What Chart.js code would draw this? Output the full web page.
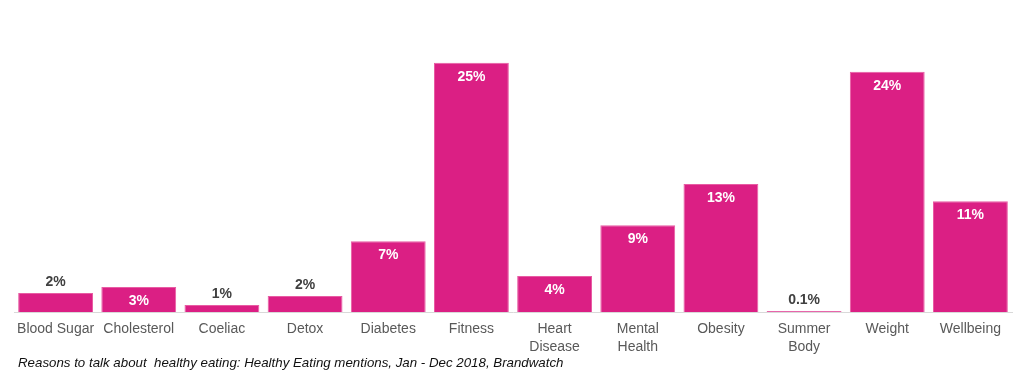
<!DOCTYPE html>
<html>
<head>
<meta charset="utf-8">
<script src="https://cdn.jsdelivr.net/npm/chart.js@4/dist/chart.umd.min.js"></script>
<style>
html,body{margin:0;padding:0;background:#fff;}
#wrap{width:1024px;height:378px;position:relative;}
#caption{position:absolute;left:18px;top:355px;font-family:"Liberation Sans",Arial,sans-serif;font-style:italic;font-size:13.3px;color:#111;white-space:pre;line-height:16px;}
</style>
</head>
<body>
<div id="wrap"><canvas id="c"></canvas><div id="caption"></div></div>
<script>
const categories = ["Blood Sugar", "Cholesterol", "Coeliac", "Detox", "Diabetes", "Fitness", ["Heart", "Disease"], ["Mental", "Health"], "Obesity", ["Summer", "Body"], "Weight", "Wellbeing"];
const shareValues = [1.9, 2.5, 0.7, 1.6, 7.1, 25.0, 3.6, 8.7, 12.85, 0.1, 24.1, 11.1];
const valueLabels = ["2%", "3%", "1%", "2%", "7%", "25%", "4%", "9%", "13%", "0.1%", "24%", "11%"];
const captionText = "Reasons to talk about  healthy eating: Healthy Eating mentions, Jan - Dec 2018, Brandwatch";

document.getElementById('caption').textContent = captionText;

const valueLabelPlugin = {
  id: 'valueLabels',
  afterDatasetsDraw(chart) {
    const ctx = chart.ctx;
    const meta = chart.getDatasetMeta(0);
    ctx.save();
    ctx.font = 'bold 14px "Liberation Sans", Arial, sans-serif';
    ctx.textAlign = 'center';
    ctx.textBaseline = 'middle';
    meta.data.forEach((bar, i) => {
      const h = bar.base - bar.y;
      if (h >= 22) {
        ctx.fillStyle = '#ffffff';
        ctx.fillText(valueLabels[i], bar.x, bar.y + 14);
      } else {
        ctx.fillStyle = '#404040';
        ctx.fillText(valueLabels[i], bar.x, bar.y - 11);
      }
    });
    ctx.restore();
  }
};

new Chart(document.getElementById('c'), {
  type: 'bar',
  data: {
    labels: categories,
    datasets: [{
      data: shareValues,
      backgroundColor: '#DB1F84',
      borderColor: '#E85CA3',
      borderWidth: 1,
      categoryPercentage: 1.0,
      barPercentage: 0.9
    }]
  },
  options: {
    responsive: true,
    maintainAspectRatio: false,
    animation: false,
    layout: { padding: { left: 14, right: 12, top: 13, bottom: 21.6 } },
    plugins: {
      legend: { display: false },
      tooltip: { enabled: false },
      title: { display: false }
    },
    scales: {
      x: {
        grid: { display: false },
        border: { display: true, color: '#D9D9D9', width: 1 },
        ticks: {
          color: '#595959',
          padding: 0,
          maxRotation: 0,
          autoSkip: false,
          font: { family: '"Liberation Sans", Arial, sans-serif', size: 14, lineHeight: 1.3 }
        }
      },
      y: {
        display: false,
        min: 0,
        max: 30
      }
    }
  },
  plugins: [valueLabelPlugin]
});
</script>
</body>
</html>
